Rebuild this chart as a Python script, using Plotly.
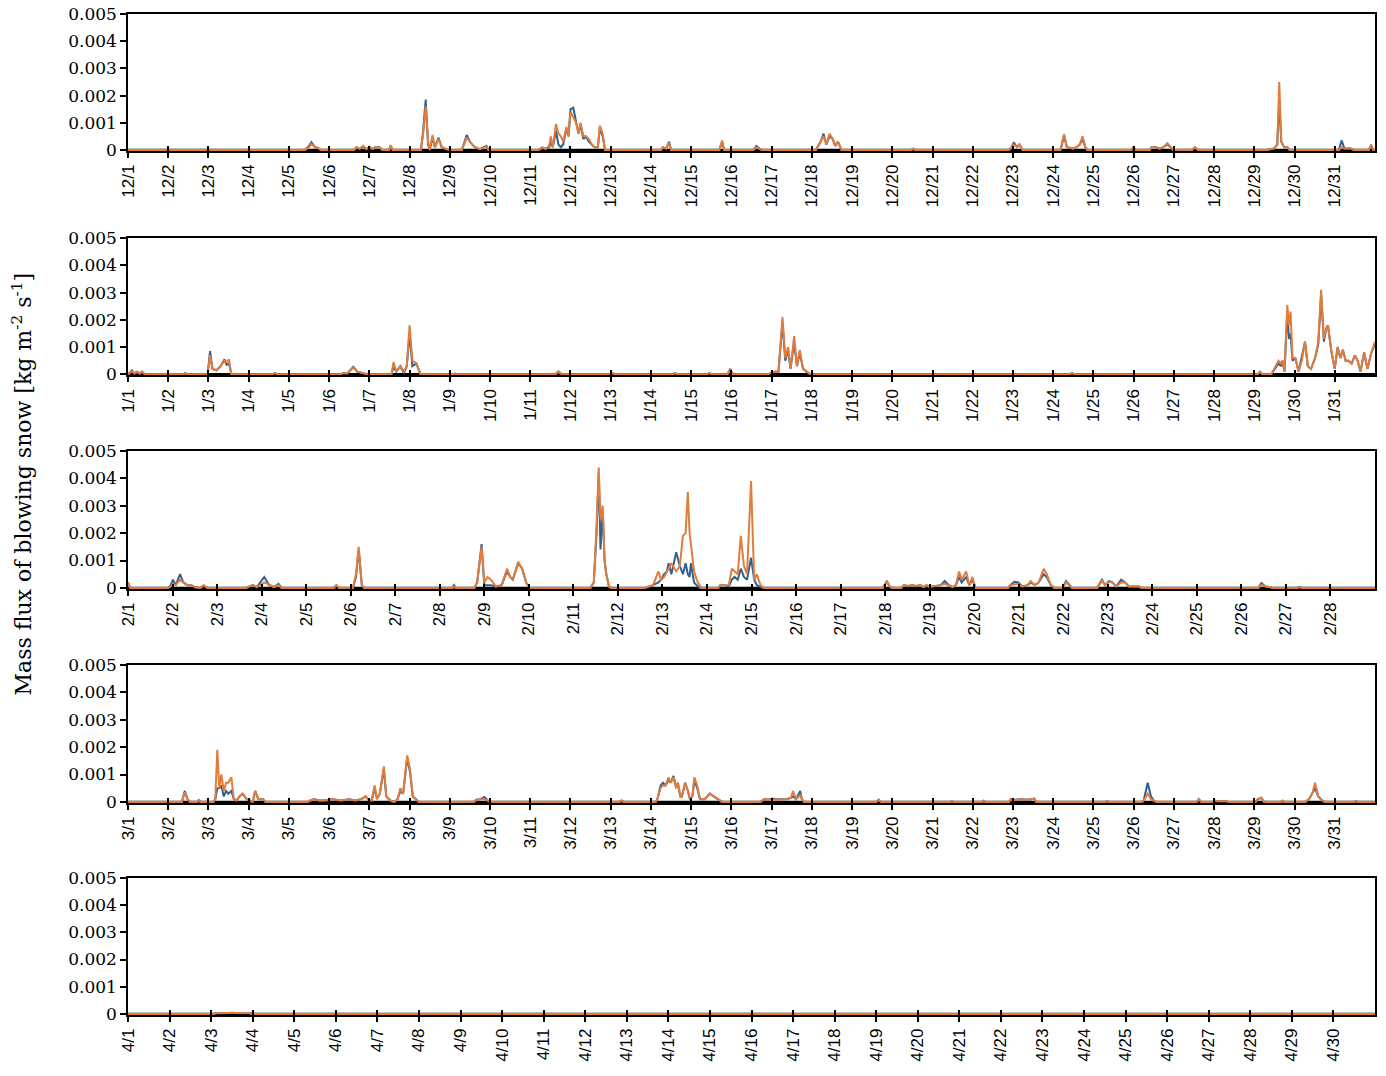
import pandas as pd
import plotly.graph_objects as go

# hourly-ish readings of the blowing snow mass flux (kg m-2 s-1)
# each row: (days since month start, series 1 (blue), series 2 (orange))
month_starts = ["2018-12-01", "2019-01-01", "2019-02-01", "2019-03-01", "2019-04-01"]
month_days = [31, 31, 28, 31, 30]

dec = [
    (0, 0, 0), (4.40, 0, 0), (4.50, 0.00015, 0.0001), (4.56, 0.00028, 0.00022), (4.65, 0.0001, 0.0001),
    (4.72, 0.00005, 0.00008), (4.80, 0, 0), (5.62, 0, 0), (5.68, 0.0001, 0.0001), (5.76, 0.00003, 0.00005),
    (5.85, 0.00012, 0.00015), (5.92, 0.00003, 0.00003), (6.00, 0.0001, 0.00012), (6.08, 0.00003, 0.00003),
    (6.15, 0.0001, 0.0001), (6.25, 0.0001, 0.0001), (6.32, 0, 0), (6.49, 0, 0), (6.53, 0.00015, 0.00018),
    (6.58, 0, 0), (7.28, 0, 0), (7.33, 0.0006, 0.0005), (7.40, 0.00185, 0.0016), (7.46, 0.0002, 0.0003),
    (7.50, 0, 0), (7.57, 0.00045, 0.00055), (7.63, 0.0001, 0.0001), (7.72, 0.00045, 0.0004),
    (7.80, 0.0001, 0.0001), (7.90, 0.00003, 0.00003), (7.98, 0, 0), (8.30, 0, 0), (8.42, 0.00055, 0.00045),
    (8.50, 0.0003, 0.0003), (8.62, 0.0001, 0.0001), (8.75, 0.00003, 0.00003), (8.85, 0.0001, 0.0001),
    (8.91, 0.00015, 0.00012), (8.96, 0, 0), (10.20, 0, 0), (10.30, 0.00005, 0.0001), (10.38, 0.00005, 0.00003),
    (10.47, 0.0001, 0.00015), (10.51, 0.0003, 0.0005), (10.56, 0.0001, 0.0001), (10.64, 0.0007, 0.00095),
    (10.70, 0.0002, 0.0006), (10.76, 0.0001, 0.0005), (10.82, 0.0002, 0.0003), (10.90, 0.0008, 0.00085),
    (10.95, 0.0005, 0.0005), (11.00, 0.0015, 0.0014), (11.07, 0.00155, 0.0012), (11.14, 0.001, 0.001),
    (11.20, 0.0006, 0.0006), (11.25, 0.00095, 0.001), (11.32, 0.0004, 0.0005), (11.38, 0.0005, 0.0005),
    (11.46, 0.0003, 0.0004), (11.53, 0.0002, 0.0002), (11.60, 0.0001, 0.0001), (11.68, 0.0001, 0.0001),
    (11.73, 0.0008, 0.0009), (11.80, 0.0005, 0.0006), (11.86, 0, 0), (13.25, 0, 0), (13.30, 0.0001, 0.0001),
    (13.38, 0.00005, 0.00005), (13.45, 0.0003, 0.00025), (13.50, 0, 0), (14.70, 0, 0), (14.77, 0.0003, 0.00035),
    (14.82, 0, 0), (15.55, 0, 0), (15.62, 0.00015, 0.0001), (15.70, 0.00005, 0.00005), (15.76, 0, 0),
    (17.10, 0, 0), (17.22, 0.0003, 0.0003), (17.29, 0.0006, 0.0005), (17.36, 0.0002, 0.0002),
    (17.44, 0.0005, 0.0006), (17.52, 0.0004, 0.0004), (17.58, 0.00015, 0.00015), (17.65, 0.0003, 0.0003),
    (17.74, 0, 0), (19.47, 0, 0), (19.52, 0.00005, 0.00005), (19.57, 0, 0), (21.90, 0, 0),
    (21.97, 0.0001, 0.0001), (22.02, 0.00028, 0.0002), (22.10, 0.0001, 0.0001), (22.16, 0.0002, 0.0002),
    (22.24, 0, 0), (23.18, 0, 0), (23.27, 0.0005, 0.00058), (23.34, 0.0001, 0.0001), (23.50, 0.00005, 0.00005),
    (23.58, 0.0001, 0.0001), (23.66, 0.0002, 0.0002), (23.73, 0.0004, 0.0005), (23.80, 0.0001, 0.0001),
    (23.85, 0, 0), (24.94, 0, 0), (24.99, 0.0001, 0.0001), (25.05, 0, 0), (25.40, 0, 0), (25.45, 0.0001, 0.0001),
    (25.55, 0.0001, 0.0001), (25.65, 0.00005, 0.00005), (25.74, 0.0001, 0.0001), (25.84, 0.0002, 0.00025),
    (25.92, 0.0001, 0.0001), (25.98, 0, 0), (26.45, 0, 0), (26.52, 0.0001, 0.0001), (26.60, 0, 0),
    (28.30, 0, 0), (28.49, 0.00005, 0.00005), (28.57, 0.0002, 0.0002), (28.62, 0.0018, 0.0025),
    (28.67, 0.0003, 0.0003), (28.74, 0.0001, 0.0001), (28.82, 0.0001, 0.0001), (28.88, 0, 0), (30.10, 0, 0),
    (30.17, 0.00035, 0.0001), (30.24, 0.00005, 0.00005), (30.40, 0.00005, 0.00005), (30.48, 0, 0),
    (30.85, 0, 0), (30.90, 0.00015, 0.0002), (30.96, 0, 0), (31, 0, 0),
]

jan = [
    (0, 0, 0), (0.10, 0.00015, 0.00012), (0.16, 0.00003, 0.00003), (0.22, 0.0001, 0.00008),
    (0.30, 0.00003, 0.00003), (0.35, 0.0001, 0.0001), (0.42, 0, 0), (1.38, 0, 0), (1.42, 0.00005, 0.00005),
    (1.46, 0, 0), (1.98, 0, 0), (2.04, 0.00085, 0.0007), (2.10, 0.0002, 0.0002), (2.20, 0.00015, 0.00015),
    (2.30, 0.0003, 0.0003), (2.40, 0.00055, 0.0005), (2.45, 0.00035, 0.00045), (2.51, 0.0004, 0.00055),
    (2.57, 0, 0), (3.58, 0, 0), (3.65, 0.00005, 0.00005), (3.72, 0, 0), (5.30, 0, 0), (5.35, 0.00005, 0.00005),
    (5.45, 0.00003, 0.00003), (5.60, 0.00028, 0.00025), (5.70, 0.0001, 0.0001), (5.85, 0.00005, 0.00005),
    (5.95, 0, 0), (6.55, 0, 0), (6.60, 0.0003, 0.00045), (6.67, 0.0001, 0.0001), (6.77, 0.0003, 0.0003),
    (6.86, 0.00005, 0.0001), (6.93, 0.0003, 0.0003), (7.00, 0.0015, 0.0018), (7.07, 0.0003, 0.0005),
    (7.17, 0.0004, 0.0004), (7.27, 0, 0), (8.08, 0, 0), (8.13, 0.00003, 0.00003), (8.18, 0, 0),
    (10.62, 0, 0), (10.70, 0.0001, 0.0001), (10.78, 0, 0), (12.00, 0, 0), (12.05, 0.00003, 0.00005),
    (12.12, 0, 0), (13.55, 0, 0), (13.60, 0.00005, 0.00005), (13.65, 0, 0), (14.38, 0, 0),
    (14.45, 0.00005, 0.00005), (14.52, 0, 0), (14.90, 0, 0), (14.97, 0.0002, 0.0002), (15.04, 0, 0),
    (15.90, 0, 0), (16.00, 0.00005, 0.00005), (16.07, 0.0001, 0.0001), (16.17, 0.0001, 0.0001),
    (16.27, 0.0019, 0.0021), (16.34, 0.0005, 0.0006), (16.41, 0.0009, 0.001), (16.47, 0.0002, 0.0002),
    (16.56, 0.0012, 0.0014), (16.63, 0.0003, 0.0003), (16.70, 0.0008, 0.0009), (16.78, 0.0002, 0.0002),
    (16.88, 0.0001, 0.0001), (16.96, 0, 0), (23.40, 0, 0), (23.47, 0.00005, 0.00005), (23.54, 0, 0),
    (28.08, 0, 0), (28.14, 0.0001, 0.0001), (28.20, 0, 0), (28.42, 0, 0), (28.49, 0.00015, 0.0002),
    (28.55, 0.0003, 0.0004), (28.60, 0.0004, 0.0005), (28.66, 0.0003, 0.0004), (28.70, 0.0005, 0.0005),
    (28.75, 0.0001, 0.0001), (28.82, 0.0023, 0.00255), (28.86, 0.0013, 0.0018), (28.90, 0.0015, 0.0023),
    (28.95, 0.0005, 0.0006), (29.02, 0.0006, 0.0006), (29.10, 0.0001, 0.0001), (29.18, 0.0006, 0.0005),
    (29.26, 0.0012, 0.0012), (29.33, 0.0003, 0.0003), (29.41, 0.0002, 0.0002), (29.51, 0.0006, 0.0006),
    (29.59, 0.0011, 0.0012), (29.66, 0.0029, 0.0031), (29.73, 0.0012, 0.0013), (29.79, 0.0017, 0.0017),
    (29.83, 0.0018, 0.0018), (29.92, 0.0008, 0.0008), (30.00, 0.0002, 0.0002), (30.07, 0.001, 0.001),
    (30.14, 0.0006, 0.0006), (30.20, 0.0009, 0.0009), (30.27, 0.0005, 0.0005), (30.34, 0.0005, 0.0005),
    (30.42, 0.0004, 0.0004), (30.50, 0.0007, 0.0007), (30.57, 0.0005, 0.0005), (30.64, 0.0001, 0.0001),
    (30.73, 0.0008, 0.0008), (30.81, 0.0002, 0.0002), (30.91, 0.0008, 0.0008), (31, 0.0011, 0.0012),
]

feb = [
    (0, 0.0002, 0.0002), (0.05, 0, 0), (0.90, 0, 0), (0.96, 0.0001, 0.00005), (1.01, 0.0003, 0.00015),
    (1.07, 0.0001, 0.0001), (1.17, 0.0005, 0.0003), (1.24, 0.0002, 0.0002), (1.33, 0.0001, 0.0001),
    (1.42, 0.0001, 0.0001), (1.51, 0.00002, 0.00002), (1.62, 0, 0), (1.70, 0.00008, 0.0001), (1.78, 0, 0),
    (2.65, 0, 0), (2.80, 0.0001, 0.0001), (2.89, 0.00003, 0.00003), (3.06, 0.0004, 0.0002),
    (3.17, 0.0001, 0.0001), (3.28, 0.00003, 0.00003), (3.38, 0.00015, 0.0001), (3.45, 0, 0), (4.62, 0, 0),
    (4.68, 0.0001, 0.0001), (4.74, 0, 0), (5.05, 0, 0), (5.12, 0.0004, 0.0005), (5.18, 0.0014, 0.0015),
    (5.25, 0.0001, 0.0001), (5.30, 0, 0), (7.28, 0, 0), (7.32, 0.0001, 0.00005), (7.36, 0, 0), (7.78, 0, 0),
    (7.84, 0.0002, 0.0002), (7.94, 0.0016, 0.0015), (8.00, 0.0001, 0.0002), (8.07, 0.0001, 0.0004),
    (8.15, 0.0001, 0.0003), (8.26, 0.00005, 0.00005), (8.39, 0.0001, 0.0001), (8.51, 0.0006, 0.0007),
    (8.58, 0.0004, 0.0004), (8.64, 0.0003, 0.0003), (8.76, 0.0009, 0.00095), (8.85, 0.0007, 0.0007),
    (8.94, 0.0002, 0.0002), (9.01, 0, 0), (10.38, 0, 0), (10.46, 0.0002, 0.0002), (10.52, 0.002, 0.0022),
    (10.57, 0.0042, 0.0044), (10.61, 0.0014, 0.0025), (10.66, 0.0028, 0.003), (10.70, 0.001, 0.001),
    (10.74, 0.0005, 0.0005), (10.80, 0.00005, 0.00005), (10.85, 0, 0), (11.60, 0, 0), (11.79, 0.0001, 0.0001),
    (11.91, 0.0002, 0.0006), (11.97, 0.0003, 0.0003), (12.04, 0.0005, 0.0004), (12.10, 0.0006, 0.0006),
    (12.14, 0.0009, 0.0007), (12.20, 0.0005, 0.0009), (12.31, 0.0013, 0.0006), (12.39, 0.0008, 0.0008),
    (12.46, 0.0005, 0.0019), (12.52, 0.0009, 0.002), (12.57, 0.0005, 0.0035), (12.61, 0.0004, 0.002),
    (12.64, 0.0009, 0.0016), (12.71, 0.0002, 0.0006), (12.77, 0.0001, 0.0003), (12.83, 0, 0.0001),
    (12.88, 0, 0), (13.25, 0, 0), (13.30, 0.0001, 0.0001), (13.38, 0.0001, 0.0001), (13.49, 0.00005, 0.0001),
    (13.56, 0.0003, 0.0007), (13.62, 0.0004, 0.0006), (13.69, 0.0003, 0.0005), (13.76, 0.0007, 0.0019),
    (13.83, 0.0004, 0.0008), (13.90, 0.0003, 0.0005), (13.99, 0.0011, 0.0039), (14.06, 0.0003, 0.0003),
    (14.12, 0.0001, 0.0005), (14.20, 0.00003, 0.0001), (14.28, 0, 0), (16.95, 0, 0), (17.04, 0.00025, 0.00022),
    (17.10, 0.00005, 0.00005), (17.16, 0, 0), (17.36, 0, 0), (17.42, 0.0001, 0.0001), (17.51, 0.00005, 0.00008),
    (17.61, 0.0001, 0.0001), (17.70, 0.00005, 0.00008), (17.79, 0.0001, 0.0001), (17.86, 0.00003, 0.00003),
    (17.93, 0.0001, 0.00008), (17.99, 0.00003, 0.00003), (18.11, 0.00005, 0.00005), (18.25, 0.0001, 0.0001),
    (18.34, 0.00025, 0.00015), (18.43, 0.0001, 0.0001), (18.52, 0.00003, 0.00003), (18.59, 0.0001, 0.0001),
    (18.66, 0.0004, 0.0006), (18.72, 0.0002, 0.0003), (18.82, 0.0004, 0.0006), (18.89, 0.0001, 0.0001),
    (18.96, 0.0003, 0.0004), (19.03, 0, 0), (19.76, 0, 0), (19.81, 0.0001, 0.0001), (19.90, 0.00022, 0.00012),
    (19.99, 0.0002, 0.00015), (20.08, 0.00005, 0.00005), (20.20, 0.0001, 0.0001), (20.27, 0.0002, 0.00025),
    (20.36, 0.0001, 0.0001), (20.45, 0.0002, 0.0002), (20.56, 0.0005, 0.0007), (20.63, 0.0004, 0.0005),
    (20.72, 0.0001, 0.0001), (20.80, 0, 0), (20.99, 0, 0), (21.06, 0.00025, 0.0002), (21.14, 0.0001, 0.0001),
    (21.20, 0, 0), (21.76, 0, 0), (21.87, 0.0003, 0.00025), (21.94, 0.0001, 0.0001), (22.03, 0.00025, 0.00022),
    (22.10, 0.0002, 0.0002), (22.19, 0.00005, 0.00005), (22.30, 0.0003, 0.0002), (22.39, 0.0002, 0.0002),
    (22.47, 0.00005, 0.00005), (22.61, 0.00005, 0.00005), (22.70, 0.00005, 0.00005), (22.76, 0, 0),
    (25.38, 0, 0), (25.45, 0.00018, 0.00012), (25.54, 0.00005, 0.00005), (25.63, 0.00003, 0.00003),
    (25.70, 0, 0), (26.25, 0, 0), (26.30, 0.00003, 0.00003), (26.35, 0, 0), (28, 0, 0),
]

mar = [
    (0, 0, 0), (1.34, 0, 0), (1.41, 0.0004, 0.00035), (1.48, 0.0001, 0.0001), (1.54, 0, 0), (1.72, 0, 0),
    (1.76, 0.00007, 0.00007), (1.80, 0, 0), (2.12, 0, 0), (2.17, 0.0001, 0.0001), (2.22, 0.0005, 0.0019),
    (2.27, 0.0005, 0.0005), (2.32, 0.0006, 0.001), (2.38, 0.0002, 0.0004), (2.44, 0.0004, 0.0007),
    (2.49, 0.0003, 0.0007), (2.57, 0.0004, 0.0009), (2.63, 0.0001, 0.0001), (2.70, 0.00005, 0.00005),
    (2.77, 0.0002, 0.0002), (2.85, 0.0003, 0.0003), (2.95, 0.0001, 0.0001), (3.03, 0.00005, 0.00005),
    (3.10, 0, 0), (3.16, 0.0004, 0.0004), (3.24, 0.0001, 0.0001), (3.31, 0.0001, 0.0001),
    (3.36, 0.0001, 0.0001), (3.42, 0, 0), (4.48, 0, 0), (4.53, 0.00005, 0.00005), (4.63, 0.0001, 0.0001),
    (4.74, 0.00005, 0.00005), (4.89, 0.00005, 0.00005), (5.09, 0.0001, 0.0001), (5.30, 0.00005, 0.00005),
    (5.50, 0.0001, 0.0001), (5.65, 0.00005, 0.00005), (5.80, 0.0001, 0.0001), (5.91, 0.0002, 0.0002),
    (5.96, 0.0001, 0.0001), (6.06, 0.00005, 0.00005), (6.13, 0.0005, 0.0006), (6.19, 0.0001, 0.0001),
    (6.26, 0.0003, 0.0003), (6.36, 0.0012, 0.0013), (6.42, 0.0002, 0.0002), (6.52, 0.00005, 0.00005),
    (6.62, 0, 0), (6.70, 0.0001, 0.0001), (6.77, 0.0004, 0.0005), (6.84, 0.0003, 0.0003),
    (6.94, 0.0016, 0.0017), (7.01, 0.0011, 0.0012), (7.08, 0.0002, 0.0002), (7.15, 0.0001, 0.0001),
    (7.23, 0, 0), (8.60, 0, 0), (8.66, 0.00008, 0.00008), (8.76, 0.0001, 0.0001), (8.86, 0.00018, 0.0001),
    (8.94, 0.00005, 0.00005), (9.00, 0, 0), (12.22, 0, 0), (12.27, 0.00005, 0.00005), (12.32, 0, 0),
    (13.12, 0, 0), (13.16, 0.0001, 0.0001), (13.24, 0.0006, 0.0005), (13.30, 0.0007, 0.0006),
    (13.36, 0.0006, 0.0006), (13.44, 0.0008, 0.0009), (13.49, 0.0007, 0.0007), (13.56, 0.00095, 0.0009),
    (13.63, 0.0005, 0.0005), (13.67, 0.0007, 0.0007), (13.73, 0.0002, 0.0002), (13.77, 0.0002, 0.0002),
    (13.85, 0.0007, 0.0007), (13.92, 0.0004, 0.0004), (13.97, 0.0001, 0.0001), (14.03, 0.0002, 0.0002),
    (14.08, 0.0008, 0.0009), (14.15, 0.0005, 0.0006), (14.22, 0.0001, 0.0001), (14.34, 0.0001, 0.0001),
    (14.46, 0.0003, 0.0003), (14.56, 0.0002, 0.0002), (14.68, 0.0001, 0.0001), (14.77, 0, 0),
    (15.72, 0, 0), (15.82, 0.0001, 0.0001), (15.92, 0.00008, 0.00008), (16.02, 0.00012, 0.0001),
    (16.12, 0.0001, 0.0001), (16.22, 0.0001, 0.00008), (16.38, 0.0001, 0.0001), (16.48, 0.00015, 0.00015),
    (16.53, 0.0002, 0.0004), (16.61, 0.0001, 0.0001), (16.71, 0.0004, 0.00025), (16.75, 0.0001, 0.0001),
    (16.81, 0, 0), (18.60, 0, 0), (18.66, 0.00008, 0.00008), (18.72, 0, 0), (20.44, 0, 0),
    (20.48, 0.00003, 0.00003), (20.52, 0, 0), (21.23, 0, 0), (21.27, 0.00004, 0.00004), (21.31, 0, 0),
    (21.90, 0, 0), (21.95, 0.0001, 0.0001), (22.05, 0.00008, 0.00006), (22.21, 0.0001, 0.0001),
    (22.36, 0.00008, 0.00008), (22.46, 0.0001, 0.0001), (22.53, 0.00012, 0.00012), (22.58, 0, 0),
    (24.30, 0, 0), (24.34, 0.00003, 0.00003), (24.38, 0, 0), (25.20, 0, 0), (25.25, 0.00005, 0.00005),
    (25.35, 0.0007, 0.0003), (25.43, 0.0002, 0.0001), (25.50, 0.00005, 0.00005), (25.56, 0, 0),
    (26.57, 0, 0), (26.62, 0.0001, 0.0001), (26.68, 0, 0), (26.98, 0, 0), (27.02, 0.00005, 0.00005),
    (27.08, 0.00002, 0.00002), (27.30, 0.00002, 0.00002), (27.36, 0, 0), (28.03, 0, 0),
    (28.09, 0.0001, 0.0001), (28.17, 0.00015, 0.00015), (28.24, 0, 0), (28.66, 0, 0),
    (28.70, 0.00004, 0.00004), (28.74, 0, 0), (29.27, 0, 0), (29.36, 0.0001, 0.0001), (29.44, 0.0003, 0.0003),
    (29.51, 0.0005, 0.0007), (29.59, 0.0002, 0.0002), (29.69, 0.00005, 0.00005), (29.75, 0, 0),
    (30.48, 0, 0), (30.52, 0.00003, 0.00003), (30.57, 0, 0), (31, 0, 0),
]

apr = [
    (0, 0, 0), (2.05, 0, 0), (2.15, 0.00003, 0.00003), (2.30, 0.00002, 0.00003), (2.50, 0.00004, 0.00004),
    (2.70, 0.00002, 0.00002), (2.90, 0.00003, 0.00003), (3.00, 0, 0), (30, 0, 0),
]

months = [dec, jan, feb, mar, apr]

blue = "#31618E"
orange = "#E27B3C"
# vertical position of each panel (paper fraction)
domains = [[0.8631, 1.0], [0.6389, 0.7762], [0.4256, 0.5634], [0.2118, 0.3497], [0.0, 0.1369]]

fig = go.Figure()
layout = dict()

for i, rows in enumerate(months):
    n = i + 1
    start = pd.Timestamp(month_starts[i])
    end = start + pd.Timedelta(days=month_days[i])
    days = pd.date_range(start, periods=month_days[i], freq="D")
    t, b, o = zip(*rows)
    x = start + pd.to_timedelta(list(t), unit="D")
    xa, ya = "x%d" % n, "y%d" % n

    # third series stays at zero the whole time
    fig.add_trace(go.Scatter(x=[start, end], y=[0, 0], mode="lines",
                             line=dict(color="black", width=2.5), xaxis=xa, yaxis=ya))
    fig.add_trace(go.Scatter(x=x, y=b, mode="lines", line=dict(color=blue, width=2),
                             xaxis=xa, yaxis=ya))
    fig.add_trace(go.Scatter(x=x, y=o, mode="lines", line=dict(color=orange, width=2),
                             xaxis=xa, yaxis=ya))
    # dummy trace for the overlay axis that draws the inner half of the x ticks
    fig.add_trace(go.Scatter(x=[start, end], y=[0, 0], mode="lines", opacity=0,
                             hoverinfo="skip", xaxis="x%d" % (n + 5), yaxis=ya))

    common_x = dict(type="date", range=[start, end], tickmode="array", tickvals=days,
                    ticklen=5, tickwidth=1.5, tickcolor="black", showgrid=False, zeroline=False,
                    automargin=False)
    layout["xaxis%d" % n] = dict(common_x, domain=[0, 1], anchor=ya, tickformat="%-m/%-d",
                                 tickangle=-90, ticks="outside",
                                 tickfont=dict(family="Liberation Sans", size=17, color="black"),
                                 showline=True, linecolor="black", linewidth=1.5, mirror=True)
    layout["xaxis%d" % (n + 5)] = dict(common_x, overlaying=xa, anchor=ya, ticks="inside",
                                       showticklabels=False, showline=False)
    layout["yaxis%d" % n] = dict(domain=domains[i], anchor=xa, range=[-0.00004, 0.005],
                                 tick0=0, dtick=0.001, ticks="outside", ticklen=6, tickwidth=1.5,
                                 tickcolor="black", showgrid=False, zeroline=False, automargin=False,
                                 showline=True, linecolor="black", linewidth=1.5, mirror=True,
                                 tickfont=dict(family="DejaVu Serif", size=17, color="black"))

fig.update_layout(**layout)
fig.update_layout(
    width=1386, height=1076,
    margin=dict(l=128, r=11, t=14, b=61),
    paper_bgcolor="white", plot_bgcolor="white",
    showlegend=False,
    annotations=[dict(text="Mass flux of blowing snow [kg m<sup>-2</sup> s<sup>-1</sup>]",
                      xref="paper", yref="paper", x=-0.085, y=0.53, xanchor="center",
                      yanchor="middle", textangle=-90, showarrow=False,
                      font=dict(family="DejaVu Serif", size=22, color="black"))],
)

# drop the default 8px page margin so the figure fills the window exactly
fig.write_html("out.html", config={"displayModeBar": False},
               post_script="document.body.style.margin = '0px';")
